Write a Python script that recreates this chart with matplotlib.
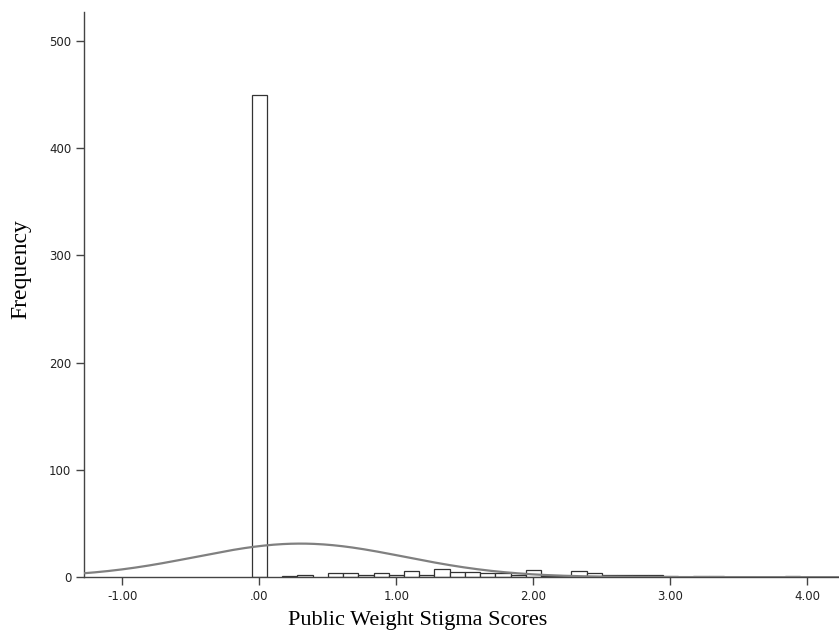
import numpy as np
import matplotlib
matplotlib.use("Agg")
import matplotlib.pyplot as plt

# histogram: bins of width 1/9 centred on k/9
bin_width = 1 / 9
bin_index = [0, 2, 3, 5, 6, 7, 8, 9, 10, 11, 12, 13, 14, 15, 16, 17, 18, 19,
             20, 21, 22, 23, 24, 25, 26, 27, 29, 30, 35]
counts = [450, 1, 2, 4, 4, 2, 4, 2, 6, 2, 8, 5, 5, 4, 4, 2, 7, 1,
          1, 6, 4, 2, 2, 2, 2, 1, 1, 1, 1]

# fitted normal curve (as drawn by SPSS)
curve_mean = 0.30
curve_sd = 0.76

x_ticks = [-1, 0, 1, 2, 3, 4]
x_ticklabels = ["-1.00", ".00", "1.00", "2.00", "3.00", "4.00"]
y_ticks = [0, 100, 200, 300, 400, 500]

fig = plt.figure(figsize=(8.39, 6.37), dpi=100)
ax = fig.add_axes([0.100, 0.094, 0.900, 0.887])

centers = np.array(bin_index) * bin_width
ax.bar(centers, counts, width=bin_width, color="white", edgecolor="#333333",
       linewidth=0.9, zorder=2)

n_total = sum(counts)
xs = np.linspace(-1.3, 4.3, 400)
ys = n_total * bin_width / (curve_sd * np.sqrt(2 * np.pi)) * np.exp(-0.5 * ((xs - curve_mean) / curve_sd) ** 2)
ax.plot(xs, ys, color="#808080", linewidth=1.6, zorder=3)

ax.set_xlim(-1.28, 4.23)
ax.set_ylim(0, 527)
ax.set_xticks(x_ticks)
ax.set_xticklabels(x_ticklabels)
ax.set_yticks(y_ticks)

for side in ["top", "right"]:
    ax.spines[side].set_visible(False)
for side in ["left", "bottom"]:
    ax.spines[side].set_color("#444444")
    ax.spines[side].set_linewidth(1.0)
ax.tick_params(direction="out", length=6, width=1.0, color="#444444",
               labelsize=8.5, labelcolor="#222222", pad=3)

ax.set_xlabel("Public Weight Stigma Scores", family="Liberation Serif", fontsize=16)
ax.set_ylabel("Frequency", family="Liberation Serif", fontsize=17)
ax.xaxis.set_label_coords(0.442, -0.060)
ax.yaxis.set_label_coords(-0.070, 0.545)

fig.savefig("out.png", dpi=100)
